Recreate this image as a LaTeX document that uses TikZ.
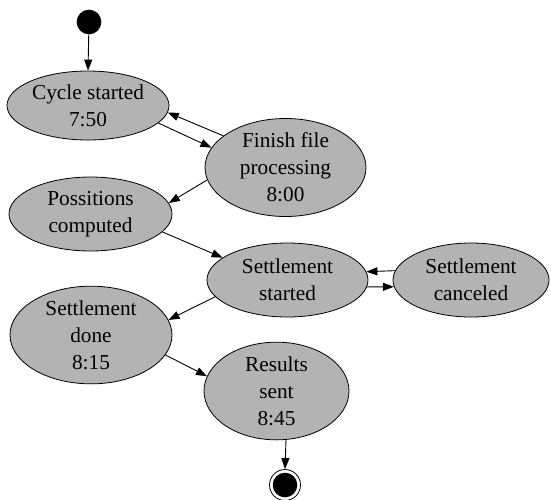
\documentclass[tikz,border=0pt]{standalone}
\usepackage{fontspec}
\setmainfont{Liberation Serif}
\usetikzlibrary{arrows.meta,shapes.geometric}
\definecolor{stategray}{RGB}{179,179,179}
\tikzset{
  state/.style={ellipse, draw=black, line width=0.8pt, fill=stategray, inner sep=0pt,
    align=center, font=\fontsize{21.3}{27}\selectfont},
  arr/.style={draw=black, line width=0.9pt, -{Triangle[length=11pt,width=8pt]}},
}
\begin{document}
\begin{tikzpicture}[x=1pt,y=-1pt]
\useasboundingbox (0,0) rectangle (551,499);
\node[circle, fill=black, minimum size=24.7pt, inner sep=0pt] (start) at (89,22) {};
\node[state, minimum width=162pt, minimum height=69pt] (cyc) at (88,105.5) {Cycle started\\7:50};
\node[state, minimum width=161pt, minimum height=91pt] (fin) at (285.5,167.5) {Finish file\\processing\\8:00};
\node[state, minimum width=163pt, minimum height=74pt] (pos) at (90.5,214) {Possitions\\computed};
\node[state, minimum width=161pt, minimum height=74pt] (ss) at (287.5,280) {Settlement\\started};
\node[state, minimum width=156pt, minimum height=74pt] (sc) at (471,280) {Settlement\\canceled};
\node[state, minimum width=162pt, minimum height=92pt] (sd) at (91,335) {Settlement\\done\\8:15};
\node[state, minimum width=145pt, minimum height=92pt] (rs) at (276.5,391) {Results\\sent\\8:45};
\node[circle, draw=black, line width=0.8pt, minimum size=31pt, inner sep=0pt] (endc) at (285,485) {};
\fill[black] (endc.center) circle (12.3);
\draw[arr] (start) -- (cyc.north);
\draw[arr] (cyc.-14) -- (fin.165);
\draw[arr] (fin.153.9) -- (cyc.-5.4);
\draw[arr] (fin.189.8) -- (pos.8.4);
\draw[arr] (pos.-14.5) -- (ss.161.4);
\draw[arr] (sc.173.2) -- (ss.6.6);
\draw[arr] (ss.-5.06) -- (sc.185.2);
\draw[arr] (ss.193.2) -- (sd.11.5);
\draw[arr] (sd.-15.5) -- (rs.168.9);
\draw[arr] (rs.-79.5) -- (endc.north);
\end{tikzpicture}
\end{document}
